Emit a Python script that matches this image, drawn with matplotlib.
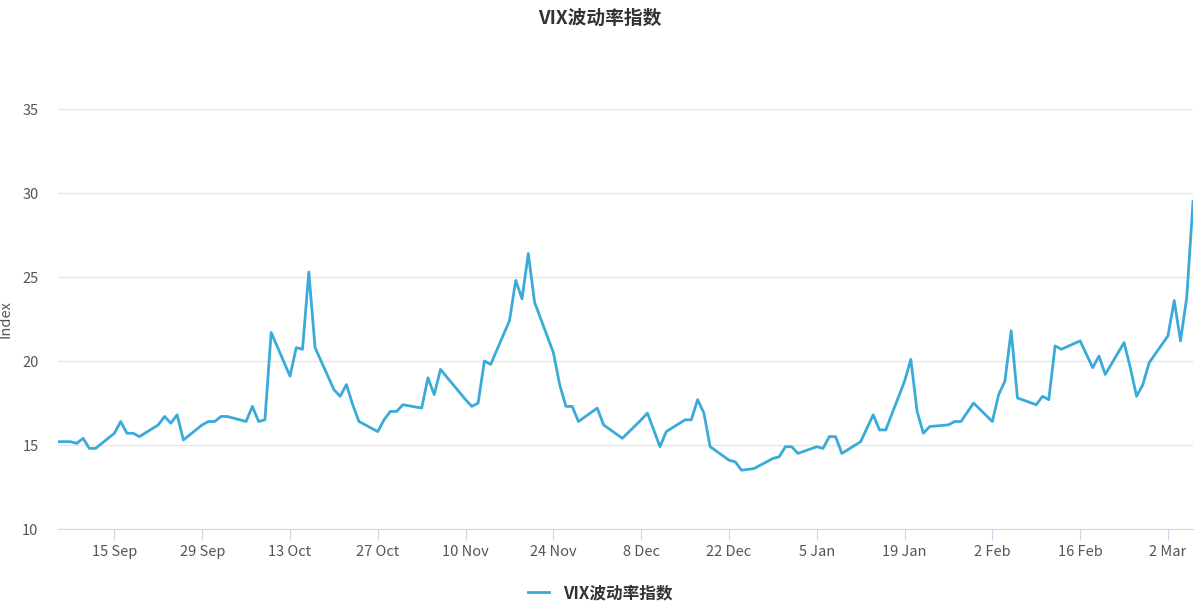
import matplotlib
matplotlib.use("Agg")
import matplotlib.pyplot as plt
import matplotlib.dates as mdates
import pandas as pd

plt.rcParams['font.family'] = ['Noto Sans CJK SC', 'DejaVu Sans']

dates = [
    "2025-09-06", "2025-09-08", "2025-09-09", "2025-09-10", "2025-09-11", "2025-09-12",
    "2025-09-15", "2025-09-16", "2025-09-17", "2025-09-18", "2025-09-19",
    "2025-09-22", "2025-09-23", "2025-09-24", "2025-09-25", "2025-09-26",
    "2025-09-29", "2025-09-30", "2025-10-01", "2025-10-02", "2025-10-03",
    "2025-10-06", "2025-10-07", "2025-10-08", "2025-10-09", "2025-10-10",
    "2025-10-13", "2025-10-14", "2025-10-15", "2025-10-16", "2025-10-17",
    "2025-10-20", "2025-10-21", "2025-10-22", "2025-10-23", "2025-10-24",
    "2025-10-27", "2025-10-28", "2025-10-29", "2025-10-30", "2025-10-31",
    "2025-11-03", "2025-11-04", "2025-11-05", "2025-11-06",
    "2025-11-10", "2025-11-11", "2025-11-12", "2025-11-13", "2025-11-14",
    "2025-11-17", "2025-11-18", "2025-11-19", "2025-11-20", "2025-11-21",
    "2025-11-24", "2025-11-25", "2025-11-26", "2025-11-27", "2025-11-28",
    "2025-12-01", "2025-12-02", "2025-12-05",
    "2025-12-08", "2025-12-09", "2025-12-10", "2025-12-11", "2025-12-12",
    "2025-12-15", "2025-12-16", "2025-12-17", "2025-12-18", "2025-12-19",
    "2025-12-22", "2025-12-23", "2025-12-24", "2025-12-26",
    "2025-12-29", "2025-12-30", "2025-12-31", "2026-01-01", "2026-01-02",
    "2026-01-05", "2026-01-06", "2026-01-07", "2026-01-08", "2026-01-09",
    "2026-01-12", "2026-01-14", "2026-01-15", "2026-01-16",
    "2026-01-19", "2026-01-20", "2026-01-21", "2026-01-22", "2026-01-23",
    "2026-01-26", "2026-01-27", "2026-01-28", "2026-01-30",
    "2026-02-02", "2026-02-03", "2026-02-04", "2026-02-05", "2026-02-06",
    "2026-02-09", "2026-02-10", "2026-02-11", "2026-02-12", "2026-02-13",
    "2026-02-16", "2026-02-17", "2026-02-18", "2026-02-19", "2026-02-20",
    "2026-02-23", "2026-02-24", "2026-02-25", "2026-02-26", "2026-02-27",
    "2026-03-02", "2026-03-03", "2026-03-04", "2026-03-05", "2026-03-06",
]
vix = [
    15.2, 15.2, 15.1, 15.4, 14.8, 14.8,
    15.7, 16.4, 15.7, 15.7, 15.5,
    16.2, 16.7, 16.3, 16.8, 15.3,
    16.2, 16.4, 16.4, 16.7, 16.7,
    16.4, 17.3, 16.4, 16.5, 21.7,
    19.1, 20.8, 20.7, 25.3, 20.8,
    18.3, 17.9, 18.6, 17.4, 16.4,
    15.8, 16.5, 17.0, 17.0, 17.4,
    17.2, 19.0, 18.0, 19.5,
    17.7, 17.3, 17.5, 20.0, 19.8,
    22.4, 24.8, 23.7, 26.4, 23.5,
    20.5, 18.6, 17.3, 17.3, 16.4,
    17.2, 16.2, 15.4,
    16.5, 16.9, 15.9, 14.9, 15.8,
    16.5, 16.5, 17.7, 16.9, 14.9,
    14.1, 14.0, 13.5, 13.6,
    14.2, 14.3, 14.9, 14.9, 14.5,
    14.9, 14.8, 15.5, 15.5, 14.5,
    15.2, 16.8, 15.9, 15.9,
    18.8, 20.1, 17.0, 15.7, 16.1,
    16.2, 16.4, 16.4, 17.5,
    16.4, 18.0, 18.8, 21.8, 17.8,
    17.4, 17.9, 17.7, 20.9, 20.7,
    21.2, 20.4, 19.6, 20.3, 19.2,
    21.1, 19.6, 17.9, 18.6, 19.9,
    21.5, 23.6, 21.2, 23.8, 29.5,
]
tick_dates = ["2025-09-15", "2025-09-29", "2025-10-13", "2025-10-27", "2025-11-10",
              "2025-11-24", "2025-12-08", "2025-12-22", "2026-01-05", "2026-01-19",
              "2026-02-02", "2026-02-16", "2026-03-02"]
series_name = "VIX波动率指数"

x = pd.to_datetime(dates)
ticks = pd.to_datetime(tick_dates)
line_color = "#3aabd9"
text_color = "#555555"

fig = plt.figure(figsize=(12, 6.14), dpi=100)
ax = fig.add_axes([0.0483, 0.1384, 0.9459, 0.684])
ax.plot(x, vix, color=line_color, lw=2, label=series_name)

ax.set_xlim(x[0], x[-1])
ax.set_ylim(10, 35)
ax.set_yticks([10, 15, 20, 25, 30, 35])
ax.set_xticks(ticks)
ax.set_xticklabels([t.strftime("%-d %b") for t in ticks])
ax.grid(axis='y', color='#e6e6e6', lw=1)
ax.set_axisbelow(True)
for s in ["top", "right", "left"]:
    ax.spines[s].set_visible(False)
ax.spines["bottom"].set_color("#ccd6eb")
ax.tick_params(axis='y', length=0, colors=text_color, labelsize=10.5, pad=14)
ax.tick_params(axis='x', length=8, color="#ccd6eb", colors=text_color, labelsize=10.5)
ax.set_ylabel("Index", color=text_color, fontsize=10.5, labelpad=2)
ax.yaxis.set_label_coords(-0.04, 0.5)

fig.suptitle(series_name, y=0.985, fontsize=13.5, fontweight='bold', color="#333333")
fig.legend(loc="lower center", bbox_to_anchor=(0.5, -0.005), frameon=False,
           prop={'size': 12, 'weight': 'bold'}, handlelength=1.3, labelcolor="#333333")

fig.savefig("out.png", dpi=100)
